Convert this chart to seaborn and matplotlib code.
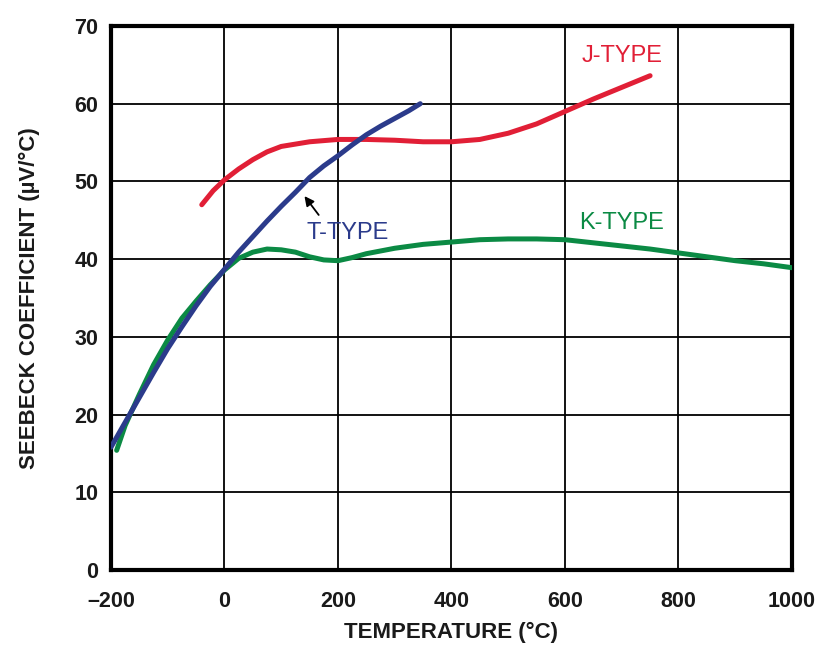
import matplotlib
matplotlib.use("Agg")
import matplotlib.pyplot as plt
import seaborn as sns
import pandas as pd

# ---- data ----
t_temp = [-200, -175, -150, -125, -100, -75, -50, -25, 0, 25, 50, 75, 100, 125, 150, 175, 200, 225, 250, 275, 300, 325, 345]
t_seebeck = [15.8, 19.0, 22.2, 25.4, 28.5, 31.3, 34.0, 36.5, 38.7, 40.9, 42.9, 44.9, 46.8, 48.6, 50.5, 52.0, 53.3, 54.7, 56.0, 57.1, 58.1, 59.1, 60.0]

j_temp = [-40, -20, 0, 25, 50, 75, 100, 150, 200, 250, 300, 350, 400, 450, 500, 550, 600, 650, 700, 750]
j_seebeck = [47.0, 48.8, 50.2, 51.6, 52.8, 53.8, 54.5, 55.1, 55.4, 55.4, 55.3, 55.1, 55.1, 55.4, 56.2, 57.4, 59.0, 60.6, 62.1, 63.6]

k_temp = [-190, -175, -150, -125, -100, -75, -50, -25, 0, 25, 50, 75, 100, 125, 150, 175, 200, 225, 250, 300, 350, 400, 450, 500, 550, 600, 650, 700, 750, 800, 850, 900, 950, 1000]
k_seebeck = [15.4, 18.6, 22.6, 26.4, 29.6, 32.4, 34.6, 36.7, 38.6, 40.1, 40.9, 41.3, 41.2, 40.9, 40.3, 39.9, 39.8, 40.2, 40.7, 41.4, 41.9, 42.2, 42.5, 42.6, 42.6, 42.5, 42.1, 41.7, 41.3, 40.8, 40.3, 39.8, 39.4, 38.9]

x_ticks = [-200, 0, 200, 400, 600, 800, 1000]
x_ticklabels = ["\u2013200", "0", "200", "400", "600", "800", "1000"]
y_ticks = [0, 10, 20, 30, 40, 50, 60, 70]

series_names = ["J-TYPE", "K-TYPE", "T-TYPE"]
colors = {"J-TYPE": "#e11f36", "K-TYPE": "#0b8a44", "T-TYPE": "#2b3b8b"}

df = pd.concat([
    pd.DataFrame({"temp": j_temp, "seebeck": j_seebeck, "type": "J-TYPE"}),
    pd.DataFrame({"temp": k_temp, "seebeck": k_seebeck, "type": "K-TYPE"}),
    pd.DataFrame({"temp": t_temp, "seebeck": t_seebeck, "type": "T-TYPE"}),
], ignore_index=True)

sns.set_style("white")
plt.rcParams['font.family'] = ['Liberation Sans', 'DejaVu Sans']

fig = plt.figure(figsize=(8.19, 6.46), dpi=100)
ax = fig.add_axes([0.1355, 0.1176, 0.8315, 0.8422])

sns.lineplot(data=df, x="temp", y="seebeck", hue="type", palette=colors,
             hue_order=series_names, linewidth=3.6, legend=False, ax=ax,
             sort=False, estimator=None, zorder=3)

ax.set_xlim(-200, 1000)
ax.set_ylim(0, 70)
ax.set_xticks(x_ticks)
ax.set_xticklabels(x_ticklabels)
ax.set_yticks(y_ticks)
ax.grid(True, color="black", linewidth=1.3)
ax.set_axisbelow(True)
for s in ax.spines.values():
    s.set_visible(True)
    s.set_color("black")
    s.set_linewidth(3)
ax.tick_params(axis="both", length=0, labelsize=15.5)
for lab in ax.get_xticklabels() + ax.get_yticklabels():
    lab.set_fontweight("bold")
    lab.set_color("#1a1a1a")
ax.tick_params(axis="x", pad=15)
ax.tick_params(axis="y", pad=9)

ax.set_xlabel("TEMPERATURE (\u00b0C)", fontsize=16, fontweight="bold", labelpad=7, color="#1a1a1a")
ax.set_ylabel("SEEBECK COEFFICIENT (\u00b5V/\u00b0C)", fontsize=16, fontweight="bold", labelpad=25, color="#1a1a1a")

ax.text(700, 66.1, "J-TYPE", color=colors["J-TYPE"], fontsize=17, ha="center", va="center")
ax.text(700, 44.6, "K-TYPE", color=colors["K-TYPE"], fontsize=17, ha="center", va="center")
ax.text(217, 43.3, "T-TYPE", color=colors["T-TYPE"], fontsize=17, ha="center", va="center")
ax.annotate("", xy=(138, 48.4), xytext=(169, 45.4),
            arrowprops=dict(arrowstyle="-|>", color="black", lw=1.3, mutation_scale=14),
            zorder=4)

fig.savefig("out.png", dpi=100)
